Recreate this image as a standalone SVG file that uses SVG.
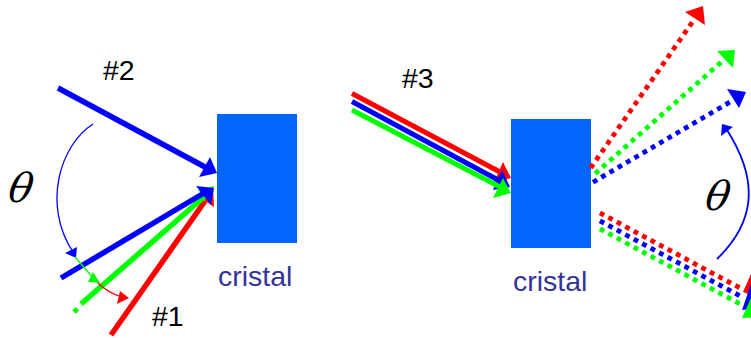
<svg xmlns="http://www.w3.org/2000/svg" width="751" height="338" viewBox="0 0 751 338">
<style>
.l{fill:none;stroke-width:5.5}
.n{fill:none;stroke-width:5}
.d{fill:none;stroke-width:4.8;stroke-dasharray:4.8 4.8}
.a{fill:none;stroke-width:1.3}
.r{stroke:#f00}.g{stroke:#0f0}.b{stroke:#00f}
.fr{fill:#f00}.fg{fill:#0f0}.fb{fill:#00f}
.t{font-family:"Liberation Sans",Arial,sans-serif;font-size:28.5px;fill:#000}
.c{font-family:"Liberation Sans",Arial,sans-serif;font-size:28.5px;fill:#333399}
.th{font-family:"DejaVu Serif",serif;font-style:italic;font-size:40px;fill:#000}
</style>
<rect width="751" height="338" fill="#fff"/>
<g id="crystal-left"><rect x="217" y="114" width="80" height="129" fill="#0066ff"/><text class="c" x="218" y="286">cristal</text></g>
<g id="crystal-right"><rect x="511" y="119" width="80" height="129" fill="#0066ff"/><text class="c" x="513" y="291">cristal</text></g>
<g id="labels">
<text class="t" x="103" y="80">#2</text>
<text class="t" x="152" y="326">#1</text>
<text class="t" x="402" y="88">#3</text>
<text class="th" transform="translate(7 202) skewX(-9)">θ</text>
<text class="th" transform="translate(704 210) skewX(-9)">θ</text>
</g>
<g id="connectors">
<path class="l r" d="M111 335L205 201"/>
<polygon class="fr" points="213,188 214,207 201,198"/>
<path class="l g" d="M81 304L205 196"/>
<path class="d g" d="M74 312L78 308"/>
<polygon class="fg" points="214,186 211,204 198,190"/>
<path class="l b" d="M61 278L204 193"/>
<polygon class="fb" points="214,188 196,186 211,205"/>
<path class="l b" d="M58 88L205 167"/>
<polygon class="fb" points="217,173 210,157 199,177"/>
<path class="a b" d="M93 124C60 145 42 205 73 252"/>
<polygon class="fb" points="76,258 65,253 77,247"/>
<path class="a g" d="M75 257L94 279"/>
<polygon class="fg" points="100,283 93,272 88,282"/>
<path class="a r" d="M98 283C104 289 112 294 122 297"/>
<polygon class="fr" points="129,298 120,291 117,304"/>

<path class="n r" d="M352 93.500L500 172"/>
<polygon class="fr" points="511,178 503,162 494,183"/>
<path class="n b" d="M352 101.500L500 181"/>
<polygon class="fb" points="510,187 502,170 493,190"/>
<path class="n g" d="M352 110L500 187"/>
<polygon class="fg" points="511,193 503,178 493,198"/>

<path class="d r" d="M590.600 168L692.400 22"/>
<polygon class="fr" points="703,6 685,12 705,25"/>
<path class="d g" d="M595.200 173.600L722 61.400"/>
<polygon class="fg" points="735,50 717,51 733,68"/>
<path class="d b" d="M593 182.200L730 102"/>
<polygon class="fb" points="746,92 727,89 739,108"/>
<path class="a b" style="stroke-width:1.8" d="M717 259C752 225 762 185 727 130"/>
<polygon class="fb" points="722,124 733,127 721,136"/>

<path class="d r" d="M599.900 212.900L741 288.500"/>
<polygon class="fr" points="762,300 743,292 751,274"/>
<path class="d b" d="M599.900 220.900L741 296.500"/>
<polygon class="fb" points="762,308 742,310 751,284"/>
<path class="d g" d="M599.900 228.900L741 304.500"/>
<polygon class="fg" points="762,317 742,318 751,298"/>
</g>
</svg>
